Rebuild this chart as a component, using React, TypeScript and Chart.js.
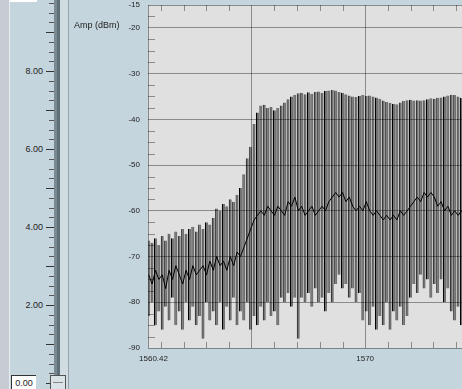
import React, { useEffect, useRef } from "react";
import { Chart, registerables } from "chart.js";

Chart.register(...registerables);

// Wavelength samples (nm)
const wavelengths = [
  1560.45, 1560.6, 1560.75, 1560.9, 1561.05, 1561.2, 1561.35, 1561.5, 1561.65, 1561.8,
  1561.95, 1562.1, 1562.25, 1562.4, 1562.55, 1562.7, 1562.85, 1563.0, 1563.15, 1563.3,
  1563.45, 1563.6, 1563.75, 1563.9, 1564.05, 1564.2, 1564.35, 1564.5, 1564.65, 1564.8,
  1564.95, 1565.1, 1565.25, 1565.4, 1565.55, 1565.7, 1565.85, 1566.0, 1566.15, 1566.3,
  1566.45, 1566.6, 1566.75, 1566.9, 1567.05, 1567.2, 1567.35, 1567.5, 1567.65, 1567.8,
  1567.95, 1568.1, 1568.25, 1568.4, 1568.55, 1568.7, 1568.85, 1569.0, 1569.15, 1569.3,
  1569.45, 1569.6, 1569.75, 1569.9, 1570.05, 1570.2, 1570.35, 1570.5, 1570.65, 1570.8,
  1570.95, 1571.1, 1571.25, 1571.4, 1571.55, 1571.7, 1571.85, 1572.0, 1572.15, 1572.3,
  1572.45, 1572.6, 1572.75, 1572.9, 1573.05, 1573.2, 1573.35, 1573.5, 1573.65, 1573.8,
  1573.95, 1574.1, 1574.25, 1574.4,
];

// Upper excursion of the trace (dBm)
const peakLevels = [
  -66.5, -67.0, -66.0, -67.5, -65.5, -66.5, -65.0, -66.0, -64.5, -65.5,
  -64.0, -65.0, -64.0, -63.5, -64.5, -63.0, -64.0, -62.5, -63.0, -61.5,
  -59.5, -60.0, -58.5, -59.0, -57.5, -58.0, -56.5, -55.0, -52.0, -48.5,
  -46.0, -41.0, -38.5, -37.0, -36.8, -37.5, -37.3, -38.0, -37.5, -37.0,
  -36.3, -35.6, -35.0, -34.6, -34.3, -34.2, -34.5, -34.1, -34.4, -34.0,
  -33.9, -34.2, -33.8, -33.7, -33.6, -33.7, -34.0, -34.2, -34.5, -34.8,
  -35.0, -35.1, -34.9, -34.7, -34.9, -34.8, -35.0, -35.2, -35.5, -35.9,
  -36.2, -36.4, -36.6, -36.7, -36.3, -36.0, -35.8, -35.7, -35.9, -35.8,
  -35.9, -35.8, -35.6, -35.4, -35.5, -35.3, -35.2, -35.0, -34.8, -34.6,
  -34.7, -35.0, -35.3, -35.4,
];

// Lower excursion of the trace (dBm)
const floorLevels = [
  -83, -80, -85, -82, -86, -81, -84, -79, -85, -82,
  -86, -80, -84, -81, -85, -83, -88, -80, -84, -82,
  -85, -80, -86, -81, -84, -79, -85, -82, -84, -80,
  -86, -83, -85, -81, -84, -80, -83, -82, -85, -79,
  -80, -78, -81, -79, -88, -79, -80, -78, -81, -77,
  -80, -79, -82, -78, -80, -76, -74, -77, -76, -79,
  -77, -80, -78, -84, -82, -85, -81, -86, -83, -85,
  -80, -86, -82, -84, -81, -85, -83, -79, -76, -78,
  -74, -77, -75, -79, -76, -78, -75, -80, -77, -82,
  -84, -81, -85, -82,
];

// Mid trace (dBm)
const meanLevels = [
  -74, -76, -73, -75, -74, -77, -73, -75, -72, -74,
  -76, -73, -75, -72, -74, -73, -72, -74, -71, -73,
  -70, -72, -71, -73, -70, -72, -69, -70, -68, -66,
  -64, -62, -61, -60, -61, -59, -60, -61, -59, -60,
  -61, -58, -59, -57, -60, -59, -61, -60, -59, -61,
  -60, -59, -60, -58, -57, -56, -57, -56, -58, -57,
  -59, -60, -59, -60, -58, -60, -61, -60, -61, -62,
  -61, -62, -61, -62, -60, -61, -60, -59, -58, -57,
  -58, -56, -57, -56, -57, -59, -58, -60, -59, -61,
  -60, -61, -60, -61,
];

const yTickValues = [-15, -20, -30, -40, -50, -60, -70, -80, -90];
const xTickValues = [1560.42, 1565, 1570, 1575];
const xTickLabels = ["1560.42", "", "1570", ""];
const X_MIN = 1560.42;
const X_MAX = 1576.83;
const Y_MIN = -90;
const Y_MAX = -15;
const yAxisTitle = "Amp (dBm)";

const sliderLabelValues = [2, 4, 6, 8];
const sliderLabels = ["2.00", "4.00", "6.00", "8.00"];
const sliderBoxLabel = "0.00";

const FONT = '"Liberation Sans", Arial, sans-serif';

const decorPlugin = {
  id: "decor",
  beforeDatasetsDraw(chart: any) {
    const { ctx, chartArea } = chart;
    const { left, top, right, bottom } = chartArea;
    ctx.save();
    ctx.fillStyle = "#e0e0e0";
    ctx.fillRect(left, top, right - left, bottom - top);
    ctx.restore();
  },
  afterDraw(chart: any) {
    const { ctx, chartArea, scales } = chart;
    const { left, top, bottom } = chartArea;
    const xs = scales.x;
    const ys = scales.y;
    ctx.save();
    ctx.strokeStyle = "rgba(0,0,0,0.38)";
    ctx.lineWidth = 1;
    ctx.beginPath();
    // minor y ticks every 2.5 dB
    for (let v = Y_MAX - 2.5; v > Y_MIN; v -= 2.5) {
      if (Math.abs(v % 10) < 0.01) continue;
      const py = Math.round(ys.getPixelForValue(v)) + 0.5;
      ctx.moveTo(left, py);
      ctx.lineTo(left + 7, py);
    }
    // minor x ticks every 1 nm
    for (let v = Math.ceil(X_MIN); v < X_MAX; v += 1) {
      if (v % 5 === 0) continue;
      const px = Math.round(xs.getPixelForValue(v)) + 0.5;
      ctx.moveTo(px, bottom);
      ctx.lineTo(px, bottom - 6);
      ctx.moveTo(px, top);
      ctx.lineTo(px, top + 6);
    }
    ctx.stroke();

    // x tick labels
    ctx.fillStyle = "#222";
    ctx.font = `8px ${FONT}`;
    ctx.textAlign = "center";
    ctx.textBaseline = "alphabetic";
    xTickValues.forEach((v, i) => {
      const label = xTickLabels[i];
      if (!label) return;
      const px = xs.getPixelForValue(v) + (i === 0 ? 5.5 : 0);
      ctx.fillText(label, px, bottom + 13);
    });

    // axis title
    ctx.font = `9px ${FONT}`;
    ctx.textAlign = "left";
    ctx.fillText(yAxisTitle, 74, 28);
    ctx.restore();
  },
};

export default function App() {
  const ref = useRef<HTMLCanvasElement>(null);

  useEffect(() => {
    const canvas = ref.current;
    if (!canvas) return;
    const chart = new Chart(canvas, {
      type: "bar",
      data: {
        datasets: [
          {
            type: "line",
            data: wavelengths.map((w, i) => ({ x: w, y: meanLevels[i] })),
            borderColor: "#000",
            borderWidth: 1,
            pointRadius: 0,
            tension: 0,
            order: 1,
          } as any,
          {
            type: "bar",
            data: wavelengths.map((w, i) => ({ x: w, y: [floorLevels[i], peakLevels[i]] })),
            backgroundColor: "#727272",
            borderColor: "#000",
            borderWidth: { left: 1, right: 0, top: 0, bottom: 0 },
            borderSkipped: false,
            inflateAmount: 0,
            barThickness: 3.0,
            grouped: false,
            order: 2,
          } as any,
        ],
      },
      options: {
        responsive: false,
        animation: false,
        devicePixelRatio: 1,
        events: [],
        layout: { padding: { top: 5, left: 0, right: 0, bottom: 0 } },
        plugins: { legend: { display: false }, tooltip: { enabled: false } },
        scales: {
          x: {
            type: "linear",
            min: X_MIN,
            max: X_MAX,
            offset: false,
            afterBuildTicks: (s: any) => {
              s.ticks = xTickValues.map((v) => ({ value: v }));
            },
            afterFit: (s: any) => {
              s.height = 41;
              s.paddingLeft = 0;
              s.paddingRight = 0;
            },
            ticks: { display: false },
            grid: { color: "rgba(0,0,0,0.38)", lineWidth: 1, drawTicks: false, offset: false, z: 1 },
            border: { display: false },
          },
          y: {
            type: "linear",
            min: Y_MIN,
            max: Y_MAX,
            afterBuildTicks: (s: any) => {
              s.ticks = yTickValues.map((v) => ({ value: v }));
            },
            afterFit: (s: any) => {
              s.width = 148;
              s.paddingTop = 0;
              s.paddingBottom = 0;
            },
            ticks: {
              autoSkip: false,
              padding: 8,
              color: "#222",
              font: { family: FONT, size: 8 },
              callback: (v: any) => String(v),
            },
            grid: { color: "rgba(0,0,0,0.38)", lineWidth: 1, drawTicks: false, offset: false, z: 1 },
            border: { display: false },
          },
        },
      } as any,
      plugins: [decorPlugin],
    });
    return () => chart.destroy();
  }, []);

  const sliderY = (v: number) => 383 - v * 39;
  const sliderTicks: { y: number; major: boolean }[] = [];
  for (let k = 0; k <= 40; k++) {
    const y = Math.round(sliderY(k / 4));
    if (y < 0) continue;
    sliderTicks.push({ y, major: k % 4 === 0 });
  }

  const abs = (s: React.CSSProperties): React.CSSProperties => ({ position: "absolute", ...s });

  return (
    <div
      style={{
        position: "fixed",
        left: 0,
        top: 0,
        width: 462,
        height: 389,
        overflow: "hidden",
        background: "#c5d5de",
        fontFamily: FONT,
      }}
    >
      <div style={abs({ left: 0, top: 0, width: 9, height: 389, background: "#c7ccd2" })} />
      <div style={abs({ left: 9, top: 0, width: 1, height: 389, background: "#e6eef2" })} />
      <div style={abs({ left: 10, top: 0, width: 27, height: 2, background: "#ffffff" })} />
      {/* slider track */}
      <div style={abs({ left: 54, top: 0, width: 3, height: 376, background: "#7a8a92" })} />
      <div style={abs({ left: 57, top: 0, width: 3, height: 376, background: "#5f6f77" })} />
      <div style={abs({ left: 60, top: 0, width: 8, height: 389, background: "#d0dce2" })} />
      <div style={abs({ left: 68, top: 0, width: 1, height: 389, background: "#93a1a8" })} />
      {sliderTicks.map((t, i) => (
        <div
          key={i}
          style={abs({
            left: t.major ? 46 : 49,
            top: t.y,
            width: t.major ? 8 : 5,
            height: 1,
            background: t.major ? "#333" : "#555",
          })}
        />
      ))}
      {sliderLabelValues.map((v, i) => (
        <div
          key={"l" + i}
          style={abs({
            left: 0,
            width: 43,
            top: sliderY(v) - 6,
            height: 12,
            lineHeight: "12px",
            fontSize: 9,
            textAlign: "right",
            color: "#222",
          })}
        >
          {sliderLabels[i]}
        </div>
      ))}
      <div
        style={abs({
          left: 11,
          top: 375,
          width: 24,
          height: 16,
          background: "#fff",
          borderTop: "1px solid #333",
          borderLeft: "1px solid #333",
          fontSize: 9,
          lineHeight: "14px",
          textAlign: "center",
          color: "#222",
        })}
      >
        {sliderBoxLabel}
      </div>
      <div
        style={abs({
          left: 50,
          top: 375,
          width: 14,
          height: 16,
          background: "#dae3e8",
          border: "1px solid #555",
        })}
      >
        <div style={abs({ left: 2, right: 2, top: 6, height: 1, background: "#888" })} />
      </div>
      <canvas
        ref={ref}
        width={520}
        height={389}
        style={{ position: "absolute", left: 0, top: 0, width: 520, height: 389 }}
      />
    </div>
  );
}
